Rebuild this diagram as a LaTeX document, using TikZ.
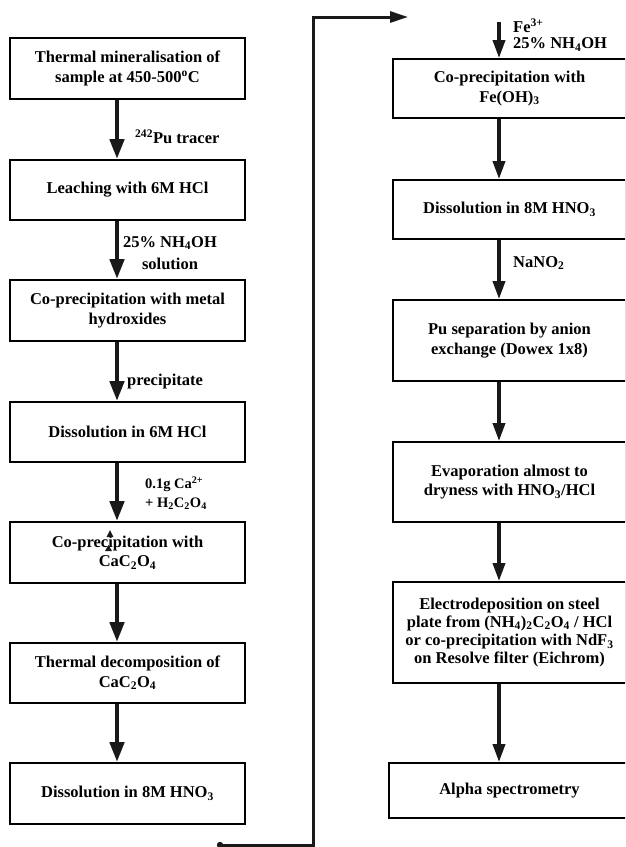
\documentclass[tikz,border=0pt]{standalone}
\usepackage{fontspec}
\setmainfont{Liberation Serif}
\usetikzlibrary{arrows.meta}
\begin{document}
\begin{tikzpicture}[x=1pt,y=-1pt,
  box/.style={draw=black,line width=1.8pt,align=center,inner sep=0pt,
    font=\bfseries\fontsize{16.5}{19.5}\selectfont},
  lbox/.style={box,minimum width=235pt},
  rbox/.style={box,minimum width=233pt},
  lab/.style={inner sep=0pt,font=\bfseries\fontsize{16.5}{16}\selectfont},
  slab/.style={inner sep=0pt,align=left,font=\bfseries\fontsize{14.5}{19}\selectfont},
  bigarrow/.style={line width=4.5pt,color=black!90,-{Triangle[length=20pt,width=14pt]}},
  midarrow/.style={line width=3.6pt,color=black!90,-{Triangle[length=18pt,width=12pt]}},
  link/.style={line width=3pt,color=black!90,-{Triangle[length=18pt,width=11pt]}}]
\useasboundingbox (0,0) rectangle (625,847);
\clip (0,0) rectangle (625,847);
% left column
\node[lbox,minimum height=61pt] (L1) at (127.5,68.5) {Thermal mineralisation of\\sample at 450-500\textsuperscript{o}C};
\node[lbox,minimum height=60pt] (L2) at (127.5,190) {Leaching with 6M HCl};
\node[lbox,minimum height=61pt] (L3) at (127.5,310.5) {Co-precipitation with metal\\hydroxides};
\node[lbox,minimum height=60pt] (L4) at (127.5,432) {Dissolution in 6M HCl};
\node[lbox,minimum height=61pt] (L5) at (127.5,552.5) {Co-precipitation with\\CaC\textsubscript{2}O\textsubscript{4}};
\node[lbox,minimum height=60pt] (L6) at (127.5,673) {Thermal decomposition of\\CaC\textsubscript{2}O\textsubscript{4}};
\node[lbox,minimum height=61pt] (L7) at (127.5,793.5) {Dissolution in 8M HNO\textsubscript{3}};
\foreach \a/\b in {L1/L2,L2/L3,L3/L4,L4/L5,L5/L6,L6/L7}
  \draw[bigarrow] ([xshift=-10.5pt]\a.south) -- ([xshift=-10.5pt]\b.north);
\node[lab,anchor=west] (t1) at (135,137) {\textsuperscript{242}Pu tracer};
\node[lab,align=center] (t2) at (170,253) {25\% NH\textsubscript{4}OH\\[6pt]solution};
\node[lab,anchor=west] (t3) at (127,382) {precipitate};
\node[slab,anchor=west] (t4) at (145,493) {0.1g Ca\textsuperscript{2+}\\+ H\textsubscript{2}C\textsubscript{2}O\textsubscript{4}};
% small artefact arrowheads in L5
\fill[black!90] (110,530) -- (113.5,537) -- (106.5,537) -- cycle;
\fill[black!90] (108.5,545) -- (112,551) -- (105,551) -- cycle;
% right column
\node[rbox,minimum height=59pt] (R1) at (509.5,88.5) {Co-precipitation with\\Fe(OH)\textsubscript{3}};
\node[rbox,minimum height=59pt] (R2) at (509.5,209.5) {Dissolution in 8M HNO\textsubscript{3}};
\node[rbox,minimum height=81pt] (R3) at (509.5,340.5) {Pu separation by anion\\exchange (Dowex 1x8)};
\node[rbox,minimum height=80pt] (R4) at (509.5,482) {Evaporation almost to\\dryness with HNO\textsubscript{3}/HCl};
\node[rbox,minimum height=101pt,font=\bfseries\fontsize{16.5}{18.3}\selectfont] (R5) at (509.5,632.5) {Electrodeposition on steel\\plate from (NH\textsubscript{4})\textsubscript{2}C\textsubscript{2}O\textsubscript{4} / HCl\\or co-precipitation with NdF\textsubscript{3}\\on Resolve filter (Eichrom)};
\node[box,minimum width=241pt,minimum height=55pt] (R6) at (509.5,790.5) {Alpha spectrometry};
\coordinate (fe) at (499,22);
\draw[midarrow] (fe) -- (R1.north -| fe);
\foreach \a/\b in {R1/R2,R2/R3,R3/R4,R4/R5,R5/R6}
  \draw[midarrow] ([xshift=-10.5pt]\a.south) -- ([xshift=-10.5pt]\b.north);
\node[lab,align=left,anchor=west] (t5) at (513,35) {Fe\textsuperscript{3+}\\25\% NH\textsubscript{4}OH};
\node[lab,anchor=west] (t6) at (513,263) {NaNO\textsubscript{2}};
% link between columns
\coordinate (s) at (220,845);
\coordinate (e) at (408,17);
\fill[black!90] (s) circle (3.2pt);
\draw[link,line cap=butt] (s) -- (313,845) -- (313,17) -- (e);
\end{tikzpicture}
\end{document}
